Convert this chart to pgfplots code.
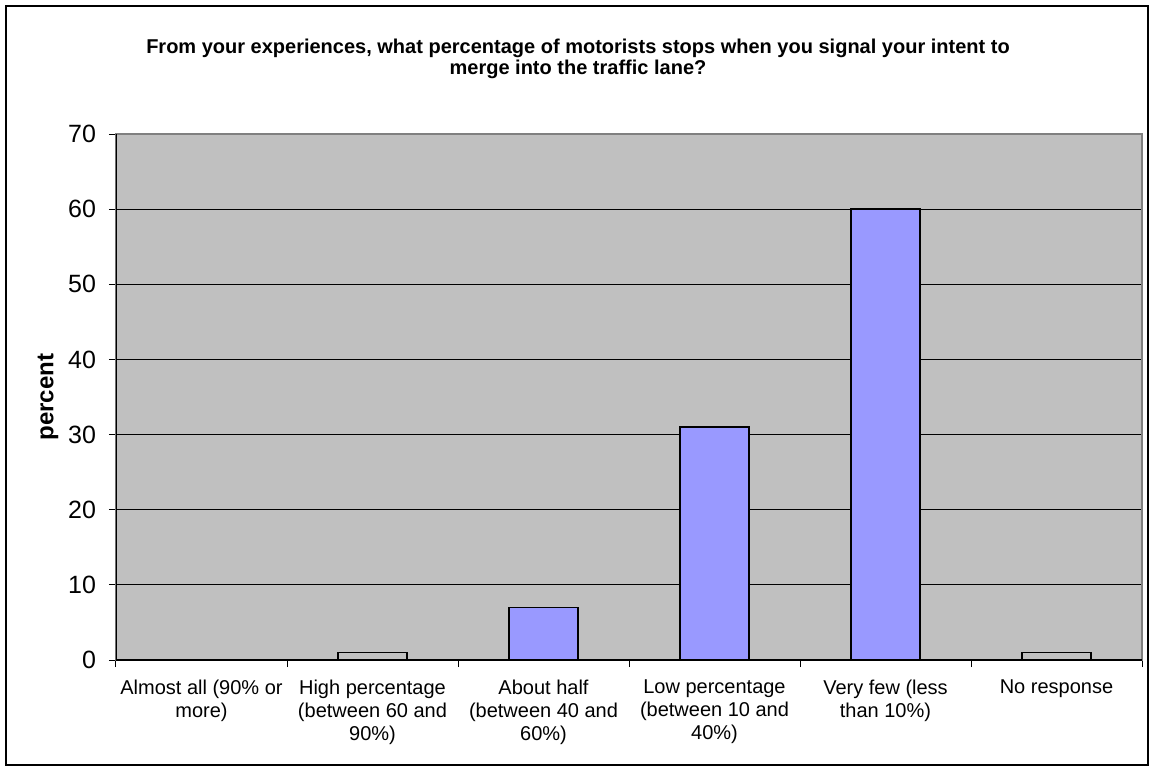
\documentclass[border=0pt]{standalone}
\usepackage{pgfplots}
\pgfplotsset{compat=1.18}
\usepackage{fontspec}
\setmainfont{Liberation Sans}
\definecolor{plotbg}{HTML}{C0C0C0}
\definecolor{barblue}{HTML}{9999FF}
\definecolor{framegray}{HTML}{808080}

\begin{document}
\begin{tikzpicture}
% whole picture: 1156 x 772 px at 0.5pt per px
\useasboundingbox[fill=white] (-58pt,-56pt) rectangle (520pt,330pt);
\draw[black, line width=0.6pt] (-55pt,-52.5pt) rectangle (516pt,327pt);
\begin{axis}[
    name=ax,
    at={(0,0)}, anchor=south west,
    scale only axis,
    width=513pt, height=263pt,
    xmin=-0.5, xmax=5.5,
    ymin=0, ymax=70,
    ytick={0,10,...,70},
    ymajorgrids=true,
    grid style={black, line width=0.5pt},
    axis background/.style={fill=plotbg},
    axis line style={framegray, line width=0.6pt},
    xtick={-0.5,0.5,...,5.5},
    x tick label as interval,
    xticklabels={{Almost all (90\% or\\more)},{High percentage\\(between 60 and\\90\%)},{About half\\(between 40 and\\60\%)},{Low percentage\\(between 10 and\\40\%)},{Very few (less\\than 10\%)},{No response}},
    x tick label style={align=center, font=\fontsize{10}{11.5}\selectfont, anchor=north, yshift=-3pt},
    y tick label style={font=\fontsize{12.5}{14}\selectfont, xshift=-3pt},
    /pgf/number format/assume math mode=true,
    tick style={black, line width=0.5pt},
    major tick length=3.5pt,
    tick pos=left,
    tick align=outside,
    ylabel={\bfseries percent},
    ylabel style={font=\fontsize{12}{13}\selectfont, at={(-34pt,131.5pt)}, anchor=center},
    ybar, bar width=0.4, bar shift=0pt,
]
\addplot[draw=black, line width=0.9pt, fill=barblue] coordinates {(2,7) (3,31) (4,60)};
\addplot[draw=black, line width=0.9pt, fill=plotbg] coordinates {(1,1) (5,1)};
\draw[black, line width=0.6pt] (axis cs:-0.5,70) -- (axis cs:-0.5,0) -- (axis cs:5.5,0);
\end{axis}
\node[align=center, font=\bfseries\fontsize{10}{10.8}\selectfont] at (231pt,300.5pt)
  {From your experiences, what percentage of motorists stops when you signal your intent to\\merge into the traffic lane?};
\end{tikzpicture}
\end{document}
